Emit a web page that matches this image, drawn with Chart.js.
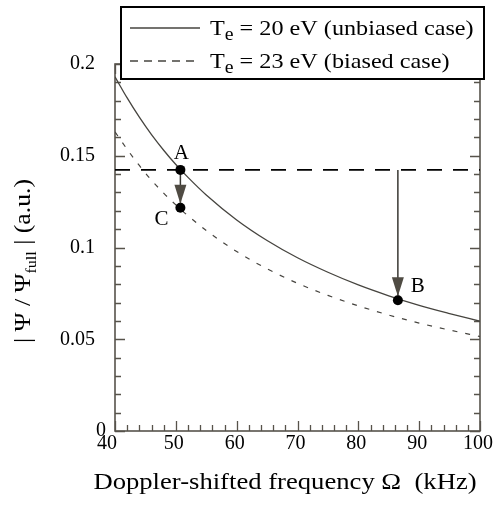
<!DOCTYPE html>
<html>
<head>
<meta charset="utf-8">
<script src="https://cdn.jsdelivr.net/npm/chart.js@4"></script>
<style>
  html, body { margin: 0; padding: 0; background: #fff; }
</style>
</head>
<body>
<canvas id="chart" width="494" height="507"></canvas>
<script>
// values
const freq = [40, 42, 44, 46, 48, 50, 52, 55, 60, 65, 70, 75, 80, 85, 90, 95, 100];
const unbiased = [0.193, 0.1815, 0.171, 0.1615, 0.153, 0.1452, 0.1382, 0.1286, 0.115, 0.1038,
  0.0944, 0.0865, 0.0796, 0.0737, 0.0685, 0.064, 0.0598];
const biased = [0.163, 0.1535, 0.1447, 0.1367, 0.1296, 0.1232, 0.1173, 0.1093, 0.0978, 0.0884,
  0.0805, 0.0739, 0.0682, 0.0632, 0.0588, 0.055, 0.0515];

const markFreq = [50.75, 50.75, 86.5];
const markAmp = [0.1423, 0.1217, 0.0713];
const markNames = ["A", "C", "B"];
const levelAmp = 0.1423;

const xTicks = [40, 50, 60, 70, 80, 90, 100];
const yTicks = [0, 0.05, 0.1, 0.15, 0.2];
const yTickLabels = ["0", "0.05", "0.1", "0.15", "0.2"];
const legendRest = [" = 20 eV (unbiased case)", " = 23 eV (biased case)"];

const SERIF = "'Liberation Serif', 'Times New Roman', serif";
const AXIS_COLOR = "#57534b";
const CURVE_COLOR = "#46443f";
const HEAD_COLOR = "#4f4b43";

function xy(xs, ys) {
  return xs.map((x, i) => ({ x, y: ys[i] }));
}

function drawTicks(ctx, area, x, y) {
  ctx.save();
  ctx.strokeStyle = AXIS_COLOR;
  ctx.lineWidth = 1.3;
  ctx.beginPath();
  for (let i = 0; i <= 20; i++) {
    const py = Math.round(y.getPixelForValue(i * 0.01)) + 0.5;
    const len = i % 5 === 0 ? 10 : 6;
    ctx.moveTo(area.left, py); ctx.lineTo(area.left + len, py);
    ctx.moveTo(area.right, py); ctx.lineTo(area.right - len, py);
  }
  for (let i = 0; i <= 30; i++) {
    const px = Math.round(x.getPixelForValue(40 + i * 2)) + 0.5;
    const len = i % 5 === 0 ? 10 : 6;
    ctx.moveTo(px, area.bottom); ctx.lineTo(px, area.bottom - len);
    ctx.moveTo(px, area.top); ctx.lineTo(px, area.top + len);
  }
  ctx.stroke();
  ctx.lineWidth = 1.6;
  ctx.strokeRect(area.left, area.top, area.right - area.left, area.bottom - area.top);
  ctx.restore();
}

function arrowHead(ctx, px, tipY) {
  ctx.beginPath();
  ctx.moveTo(px, tipY);
  ctx.lineTo(px - 6, tipY - 19);
  ctx.lineTo(px + 6, tipY - 19);
  ctx.closePath();
  ctx.fill();
}

// text runs [text, isSub], drawn left to right with a horizontal stretch sx
function drawRuns(ctx, runs, x, y, size, subSize, subDrop, sx) {
  runs.forEach(([txt, sub]) => {
    ctx.font = (sub ? subSize : size) + "px " + SERIF;
    ctx.save();
    ctx.translate(x, y + (sub ? subDrop : 0));
    ctx.scale(sx, 1);
    ctx.fillText(txt, 0, 0);
    ctx.restore();
    x += ctx.measureText(txt).width * sx;
  });
  return x;
}
function runsWidth(ctx, runs, size, subSize, sx) {
  let w = 0;
  runs.forEach(([txt, sub]) => {
    ctx.font = (sub ? subSize : size) + "px " + SERIF;
    w += ctx.measureText(txt).width * sx;
  });
  return w;
}

const decorations = {
  id: "decorations",
  beforeDatasetsDraw(chart) {
    const { ctx, chartArea, scales } = chart;
    drawTicks(ctx, chartArea, scales.x, scales.y);
  },
  afterDatasetsDraw(chart) {
    const { ctx, chartArea, scales } = chart;
    const x = scales.x, y = scales.y;
    ctx.save();

    // arrow heads
    ctx.fillStyle = HEAD_COLOR;
    arrowHead(ctx, x.getPixelForValue(markFreq[1]), y.getPixelForValue(markAmp[1]) - 4);
    arrowHead(ctx, x.getPixelForValue(markFreq[2]), y.getPixelForValue(markAmp[2]) - 4);

    // point labels
    ctx.fillStyle = "#000";
    ctx.font = "21px " + SERIF;
    ctx.textBaseline = "alphabetic";
    ctx.textAlign = "center";
    const offs = [[1, -11], [-19, 17], [20, -8]];
    markNames.forEach((n, i) => {
      ctx.fillText(n, x.getPixelForValue(markFreq[i]) + offs[i][0], y.getPixelForValue(markAmp[i]) + offs[i][1]);
    });

    // tick labels
    ctx.font = "20px " + SERIF;
    ctx.textAlign = "right";
    ctx.textBaseline = "middle";
    yTicks.forEach((v, i) => {
      const right = v === 0 ? chartArea.left - 9 : chartArea.left - 20;
      ctx.fillText(yTickLabels[i], right, y.getPixelForValue(v));
    });
    ctx.textAlign = "center";
    ctx.textBaseline = "alphabetic";
    xTicks.forEach((v, i) => {
      const shift = i === 0 ? -8 : -2;
      ctx.fillText(String(v), x.getPixelForValue(v) + shift, chartArea.bottom + 18);
    });

    // x title
    ctx.textAlign = "left";
    const xRuns = [["Doppler-shifted frequency \u03A9  (kHz)", false]];
    const xw = runsWidth(ctx, xRuns, 24, 24, 1.11);
    drawRuns(ctx, xRuns, 285 - xw / 2, 489, 24, 24, 0, 1.11);

    // y title (rotated, with subscript)
    const yRuns = [["| \u03A8 / \u03A8", false], ["full", true], [" | (a.u.)", false]];
    ctx.save();
    ctx.translate(30, 261);
    ctx.rotate(-Math.PI / 2);
    const w = runsWidth(ctx, yRuns, 24, 15, 1.07);
    drawRuns(ctx, yRuns, -w / 2, 0, 24, 15, 6, 1.07);
    ctx.restore();

    // legend
    const lx = 121, ly = 7, lw = 363, lh = 72;
    ctx.fillStyle = "#fff";
    ctx.fillRect(lx, ly, lw, lh);
    ctx.strokeStyle = "#000";
    ctx.lineWidth = 2;
    ctx.strokeRect(lx, ly, lw, lh);
    ctx.strokeStyle = CURVE_COLOR;
    ctx.lineWidth = 1.3;
    ctx.beginPath();
    ctx.moveTo(130, 28); ctx.lineTo(200, 28);
    ctx.stroke();
    ctx.setLineDash([8, 6]);
    ctx.beginPath();
    ctx.moveTo(130, 61); ctx.lineTo(200, 61);
    ctx.stroke();
    ctx.setLineDash([]);
    ctx.fillStyle = "#000";
    legendRest.forEach((rest, i) => {
      drawRuns(ctx, [["T", false], ["e", true], [rest, false]], 210, 35 + i * 33, 22, 18, 5, 1.1);
    });

    ctx.restore();
  }
};

new Chart(document.getElementById("chart").getContext("2d"), {
  type: "line",
  data: {
    datasets: [
      {
        label: "marks",
        data: xy(markFreq, markAmp),
        showLine: false,
        pointRadius: 5,
        pointBackgroundColor: "#000",
        pointBorderWidth: 0,
        order: 0
      },
      {
        label: "A to C",
        data: [{ x: markFreq[0], y: markAmp[0] }, { x: markFreq[1], y: markAmp[1] }],
        borderColor: "#3a3833",
        borderWidth: 1.5,
        pointRadius: 0,
        order: 1
      },
      {
        label: "level to B",
        data: [{ x: markFreq[2], y: levelAmp }, { x: markFreq[2], y: markAmp[2] }],
        borderColor: "#3a3833",
        borderWidth: 1.5,
        pointRadius: 0,
        order: 1
      },
      {
        label: "level",
        data: [{ x: freq[0], y: levelAmp }, { x: freq[freq.length - 1], y: levelAmp }],
        borderColor: "#000",
        borderWidth: 1.8,
        borderDash: [15, 11],
        pointRadius: 0,
        order: 2
      },
      {
        label: "Te = 20 eV (unbiased case)",
        data: xy(freq, unbiased),
        borderColor: CURVE_COLOR,
        borderWidth: 1.3,
        pointRadius: 0,
        cubicInterpolationMode: "monotone",
        order: 3
      },
      {
        label: "Te = 23 eV (biased case)",
        data: xy(freq, biased),
        borderColor: CURVE_COLOR,
        borderWidth: 1.2,
        borderDash: [5, 8],
        pointRadius: 0,
        cubicInterpolationMode: "monotone",
        order: 3
      }
    ]
  },
  options: {
    responsive: false,
    animation: false,
    layout: { padding: { left: 0, right: 14, top: 64, bottom: 0 } },
    plugins: { legend: { display: false }, tooltip: { enabled: false } },
    scales: {
      x: {
        type: "linear", min: 40, max: 100,
        grid: { display: false }, border: { display: false }, ticks: { display: false },
        afterFit(s) { s.height = 76; }
      },
      y: {
        type: "linear", min: 0, max: 0.2,
        grid: { display: false }, border: { display: false }, ticks: { display: false },
        afterFit(s) { s.width = 115; }
      }
    }
  },
  plugins: [decorations]
});
</script>
</body>
</html>
